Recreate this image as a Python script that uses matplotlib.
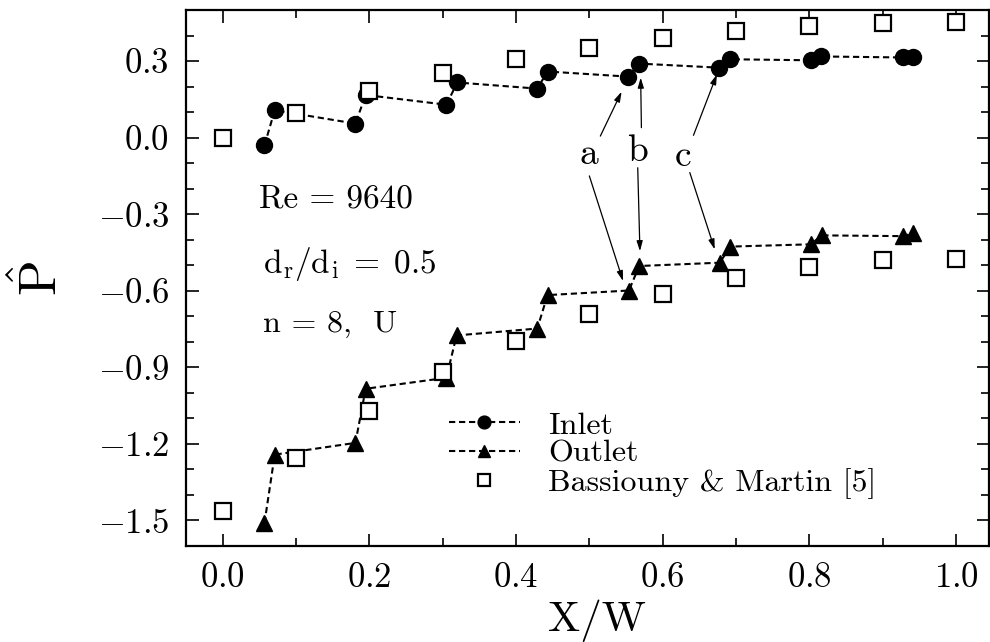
import matplotlib
matplotlib.use("Agg")
import matplotlib.pyplot as plt
from matplotlib.ticker import MultipleLocator

plt.rcParams['font.family'] = ['cmr10', 'DejaVu Serif']
plt.rcParams['mathtext.fontset'] = 'cm'
plt.rcParams['axes.formatter.use_mathtext'] = True

# ---- data ----
x_inlet = [0.057, 0.071, 0.181, 0.195, 0.305, 0.320, 0.429, 0.443,
           0.553, 0.568, 0.677, 0.692, 0.802, 0.816, 0.928, 0.941]
y_inlet = [-0.030, 0.107, 0.055, 0.167, 0.129, 0.216, 0.192, 0.259,
           0.239, 0.290, 0.274, 0.307, 0.303, 0.318, 0.314, 0.314]

x_outlet = [0.057, 0.071, 0.181, 0.195, 0.305, 0.319, 0.429, 0.443,
            0.554, 0.568, 0.678, 0.692, 0.802, 0.817, 0.928, 0.941]
y_outlet = [-1.510, -1.242, -1.196, -0.984, -0.941, -0.775, -0.748, -0.617,
            -0.599, -0.503, -0.490, -0.427, -0.418, -0.383, -0.386, -0.375]

x_bm = [0.0, 0.1, 0.2, 0.3, 0.4, 0.5, 0.6, 0.7, 0.8, 0.9, 1.0]
y_bm_in = [0.000, 0.095, 0.183, 0.252, 0.307, 0.353, 0.392, 0.418, 0.438, 0.448, 0.453]
y_bm_out = [-1.464, -1.255, -1.072, -0.919, -0.795, -0.693, -0.611, -0.549, -0.506, -0.481, -0.477]

xticks = [0.0, 0.2, 0.4, 0.6, 0.8, 1.0]
yticks = [-1.5, -1.2, -0.9, -0.6, -0.3, 0.0, 0.3]
xticklabels = ['0.0', '0.2', '0.4', '0.6', '0.8', '1.0']
yticklabels = ['-1.5', '-1.2', '-0.9', '-0.6', '-0.3', '0.0', '0.3']

labels = ['a', 'b', 'c']
label_pos = [(0.500, -0.066), (0.566, -0.054), (0.628, -0.073)]
arrows_up = [((0.515, 0.006), (0.544, 0.180)),
             ((0.571, 0.039), (0.570, 0.235)),
             ((0.642, 0.009), (0.674, 0.248))]
arrows_down = [((0.500, -0.150), (0.546, -0.562)),
               ((0.566, -0.118), (0.569, -0.445)),
               ((0.637, -0.137), (0.671, -0.438))]

# ---- figure ----
fig = plt.figure(figsize=(9.9, 6.42), dpi=100)
ax = fig.add_axes([186/990, 1-546/642, (989-186)/990, (546-10)/642])

ax.plot(x_inlet, y_inlet, color='black', lw=1.5, dashes=(3, 1.8),
        marker='o', ms=11.5, label='Inlet')
ax.plot(x_outlet, y_outlet, color='black', lw=1.5, dashes=(3, 1.8),
        marker='^', ms=11, label='Outlet')
ax.plot(x_bm + x_bm, y_bm_in + y_bm_out, ls='none', marker='s', ms=11,
        mfc='white', mec='black', mew=1.6, label='Bassiouny & Martin [5]')

ax.set_xlim(-0.05, 1.045)
ax.set_ylim(-1.6, 0.5)
ax.set_xticks(xticks)
ax.set_xticklabels(['$' + t + '$' for t in xticklabels])
ax.set_yticks(yticks)
ax.set_yticklabels(['$' + t + '$' for t in yticklabels])
ax.xaxis.set_minor_locator(MultipleLocator(0.1))
ax.yaxis.set_minor_locator(MultipleLocator(0.1))
ax.tick_params(which='both', direction='in', top=True, right=True,
               labelsize=25, width=1.2)
ax.tick_params(which='major', length=9, pad=12)
ax.tick_params(which='minor', length=6)
for s in ax.spines.values():
    s.set_linewidth(1.6)

# annotations
for lab, (tx, ty) in zip(labels, label_pos):
    ax.text(tx, ty, lab, fontsize=27, ha='center', va='center')
for (s, e) in arrows_up + arrows_down:
    ax.annotate('', xy=e, xytext=s,
                arrowprops=dict(arrowstyle='-|>,head_length=0.6,head_width=0.18',
                                color='black', lw=0.9, shrinkA=0, shrinkB=0))

ax.text(0.049, -0.242, 'Re = 9640', fontsize=24, ha='left', va='center')
ax.text(0.055, -0.497, r'$\mathrm{d_r/d_i\;=\;0.5}$', fontsize=24, ha='left', va='center')
ax.text(0.055, -0.732, 'n = 8,  U', fontsize=23, ha='left', va='center')

leg = ax.legend(loc='upper left', bbox_to_anchor=(0.292, 0.305), frameon=False,
                fontsize=23, handlelength=2.2, handletextpad=0.9,
                labelspacing=0.0, borderpad=0.4, markerscale=0.8)

fig.text(40/990, 1-279/642, r'$\hat{\mathrm{P}}$', fontsize=38, rotation=90,
         ha='center', va='center')
fig.text(597/990, 1-621/642, 'X/W', fontsize=31, ha='center', va='center')

fig.savefig('out.png', dpi=100)
